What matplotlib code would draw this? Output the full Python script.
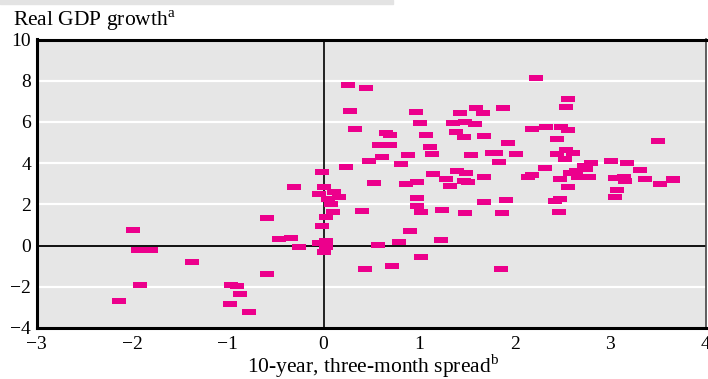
import numpy as np
import matplotlib
matplotlib.use('Agg')
import matplotlib.pyplot as plt
from matplotlib.patches import Rectangle

plt.rcParams['font.family'] = ['Liberation Serif', 'DejaVu Serif']
plt.rcParams['mathtext.fontset'] = 'custom'
plt.rcParams['mathtext.rm'] = 'Liberation Serif'

# spread (x) and GDP growth (y)
spread = [-1.99, -1.94, -1.80, -1.38, -1.92, -2.14, -0.59, -0.47, -0.34, -0.26,
          -0.59, -0.97, -0.90, -0.87, -0.98, -0.78, -0.31,
          -0.02, 0.23, 0.00, -0.05, 0.11, 0.16, 0.05, 0.08, 0.10, 0.03,
          -0.02, -0.05, 0.03, 0.03, 0.01,
          0.26, 0.44, 0.28, 0.33, 0.97, 1.01, 1.07, 0.65, 0.70, 0.58,
          0.69, 1.11, 1.13, 0.88, 0.61, 0.48, 0.81, 0.53, 0.86, 0.98,
          1.14, 1.28, 1.32,
          2.22, 2.56, 2.54, 1.59, 1.43, 1.67, 1.88, 1.35, 1.48, 1.58,
          1.39, 1.47, 1.68, 1.93, 1.76, 1.80, 1.54, 2.01, 1.83, 2.18,
          2.33, 2.48, 2.56, 2.44, 2.54, 2.61, 2.44, 2.53, 2.32, 1.40,
          1.49, 1.47, 1.51, 1.68, 2.14, 2.18, 2.47, 2.56, 2.58, 2.64,
          3.50, 2.80, 3.01, 3.17, 2.72, 2.74, 3.31, 2.78, 2.66, 3.05,
          3.14, 3.15, 3.36, 3.52, 3.65, 3.66, 3.07, 3.05,
          1.24, 1.48, 1.68, 1.91, 1.87, 2.42, 2.47, 2.46, 1.23, 1.86,
          0.40, 0.98, 0.98, 1.02, 0.90, 0.79, 0.57, 1.02, 0.72, 0.43]
growth = [0.75, -0.21, -0.21, -0.81, -1.92, -2.68, 1.33, 0.31, 0.36, -0.08,
          -1.39, -1.92, -1.97, -2.36, -2.84, -3.23, 2.86,
          3.56, 3.81, 2.82, 2.50, 2.59, 2.38, 2.27, 2.02, 1.64, 1.38,
          0.94, 0.12, 0.23, -0.05, -0.32,
          7.79, 7.64, 6.52, 5.65, 6.48, 5.94, 5.36, 5.46, 5.36, 4.87,
          4.87, 4.78, 4.44, 4.39, 4.29, 4.10, 3.95, 3.03, 2.98, 3.08,
          3.47, 3.22, 2.88,
          8.13, 7.11, 6.72, 6.67, 6.43, 6.43, 6.67, 5.94, 5.99, 5.89,
          5.50, 5.26, 5.31, 4.97, 4.51, 4.49, 4.39, 4.44, 4.05, 5.65,
          5.75, 5.75, 5.60, 5.17, 4.65, 4.51, 4.44, 4.18, 3.76, 3.61,
          3.51, 3.13, 3.08, 3.32, 3.32, 3.42, 3.22, 2.83, 3.51, 3.60,
          5.07, 4.00, 4.10, 4.00, 3.85, 3.70, 3.66, 3.32, 3.33, 3.27,
          3.35, 3.14, 3.22, 2.98, 3.16, 3.22, 2.69, 2.38,
          1.73, 1.57, 2.11, 2.20, 1.57, 2.16, 2.25, 1.62, 0.26, -1.15,
          1.67, 2.30, 1.93, 1.62, 0.70, 0.17, 0.02, -0.56, -1.00, -1.15]

x_ticks = [-3, -2, -1, 0, 1, 2, 3, 4]
y_ticks = [-4, -2, 0, 2, 4, 6, 8, 10]
x_labels = ['\u22123', '\u22122', '\u22121', '0', '1', '2', '3', '4']
y_labels = ['\u22124', '\u22122', '0', '2', '4', '6', '8', '10']

fig = plt.figure(figsize=(7.08, 3.79), dpi=100)
ax = fig.add_axes([36.7/708, 51/379, 669.3/708, 288.5/379])
ax.set_facecolor('#e6e6e6')

# grey strip along the top edge
fig.patches.append(Rectangle((0, 1 - 4/379), 393/708, 4/379, transform=fig.transFigure,
                             color='#e3e3e3', zorder=0))

for y in [-2, 2, 4, 6, 8]:
    ax.axhline(y, color='white', lw=1.6, zorder=1)
ax.axhline(0, color='black', lw=1.3, zorder=2)
ax.axvline(0, color='black', lw=1.2, zorder=2)

rect = [(-1, -0.5), (1, -0.5), (1, 0.5), (-1, 0.5)]
ax.plot(spread, growth, linestyle='none', marker=rect, markersize=9.6,
        markeredgewidth=0, color='#ec008c', zorder=3)

ax.set_xlim(-3, 4)
ax.set_ylim(-4, 10)
ax.set_xticks(x_ticks)
ax.set_xticklabels(x_labels)
ax.set_yticks(y_ticks)
ax.set_yticklabels(y_labels)
ax.tick_params(axis='both', which='major', length=0, labelsize=14)
ax.tick_params(axis='x', which='major', pad=6)
ax.tick_params(axis='y', which='major', pad=4)
ax.set_xticks([-2, -1, 1, 2, 3], minor=True)
ax.set_yticks([-2, 2, 4, 6, 8], minor=True)
ax.tick_params(axis='x', which='minor', direction='in', length=12, width=2.2, color='black')
ax.tick_params(axis='y', which='minor', direction='in', length=14, width=2.2, color='black')

for side in ['left', 'bottom', 'top']:
    ax.spines[side].set_linewidth(2.2)
    ax.spines[side].set_color('black')
ax.spines['right'].set_linewidth(1.2)
ax.spines['right'].set_color('#444444')

fig.text(13/708, 1 - 26/379, 'Real GDP growth$^{\\mathrm{a}}$', fontsize=15.5,
         ha='left', va='baseline')
fig.text(373/708, 6/379, '10-year, three-month spread$^{\\mathrm{b}}$', fontsize=15.5,
         ha='center', va='baseline')

fig.savefig('out.png', dpi=100)
